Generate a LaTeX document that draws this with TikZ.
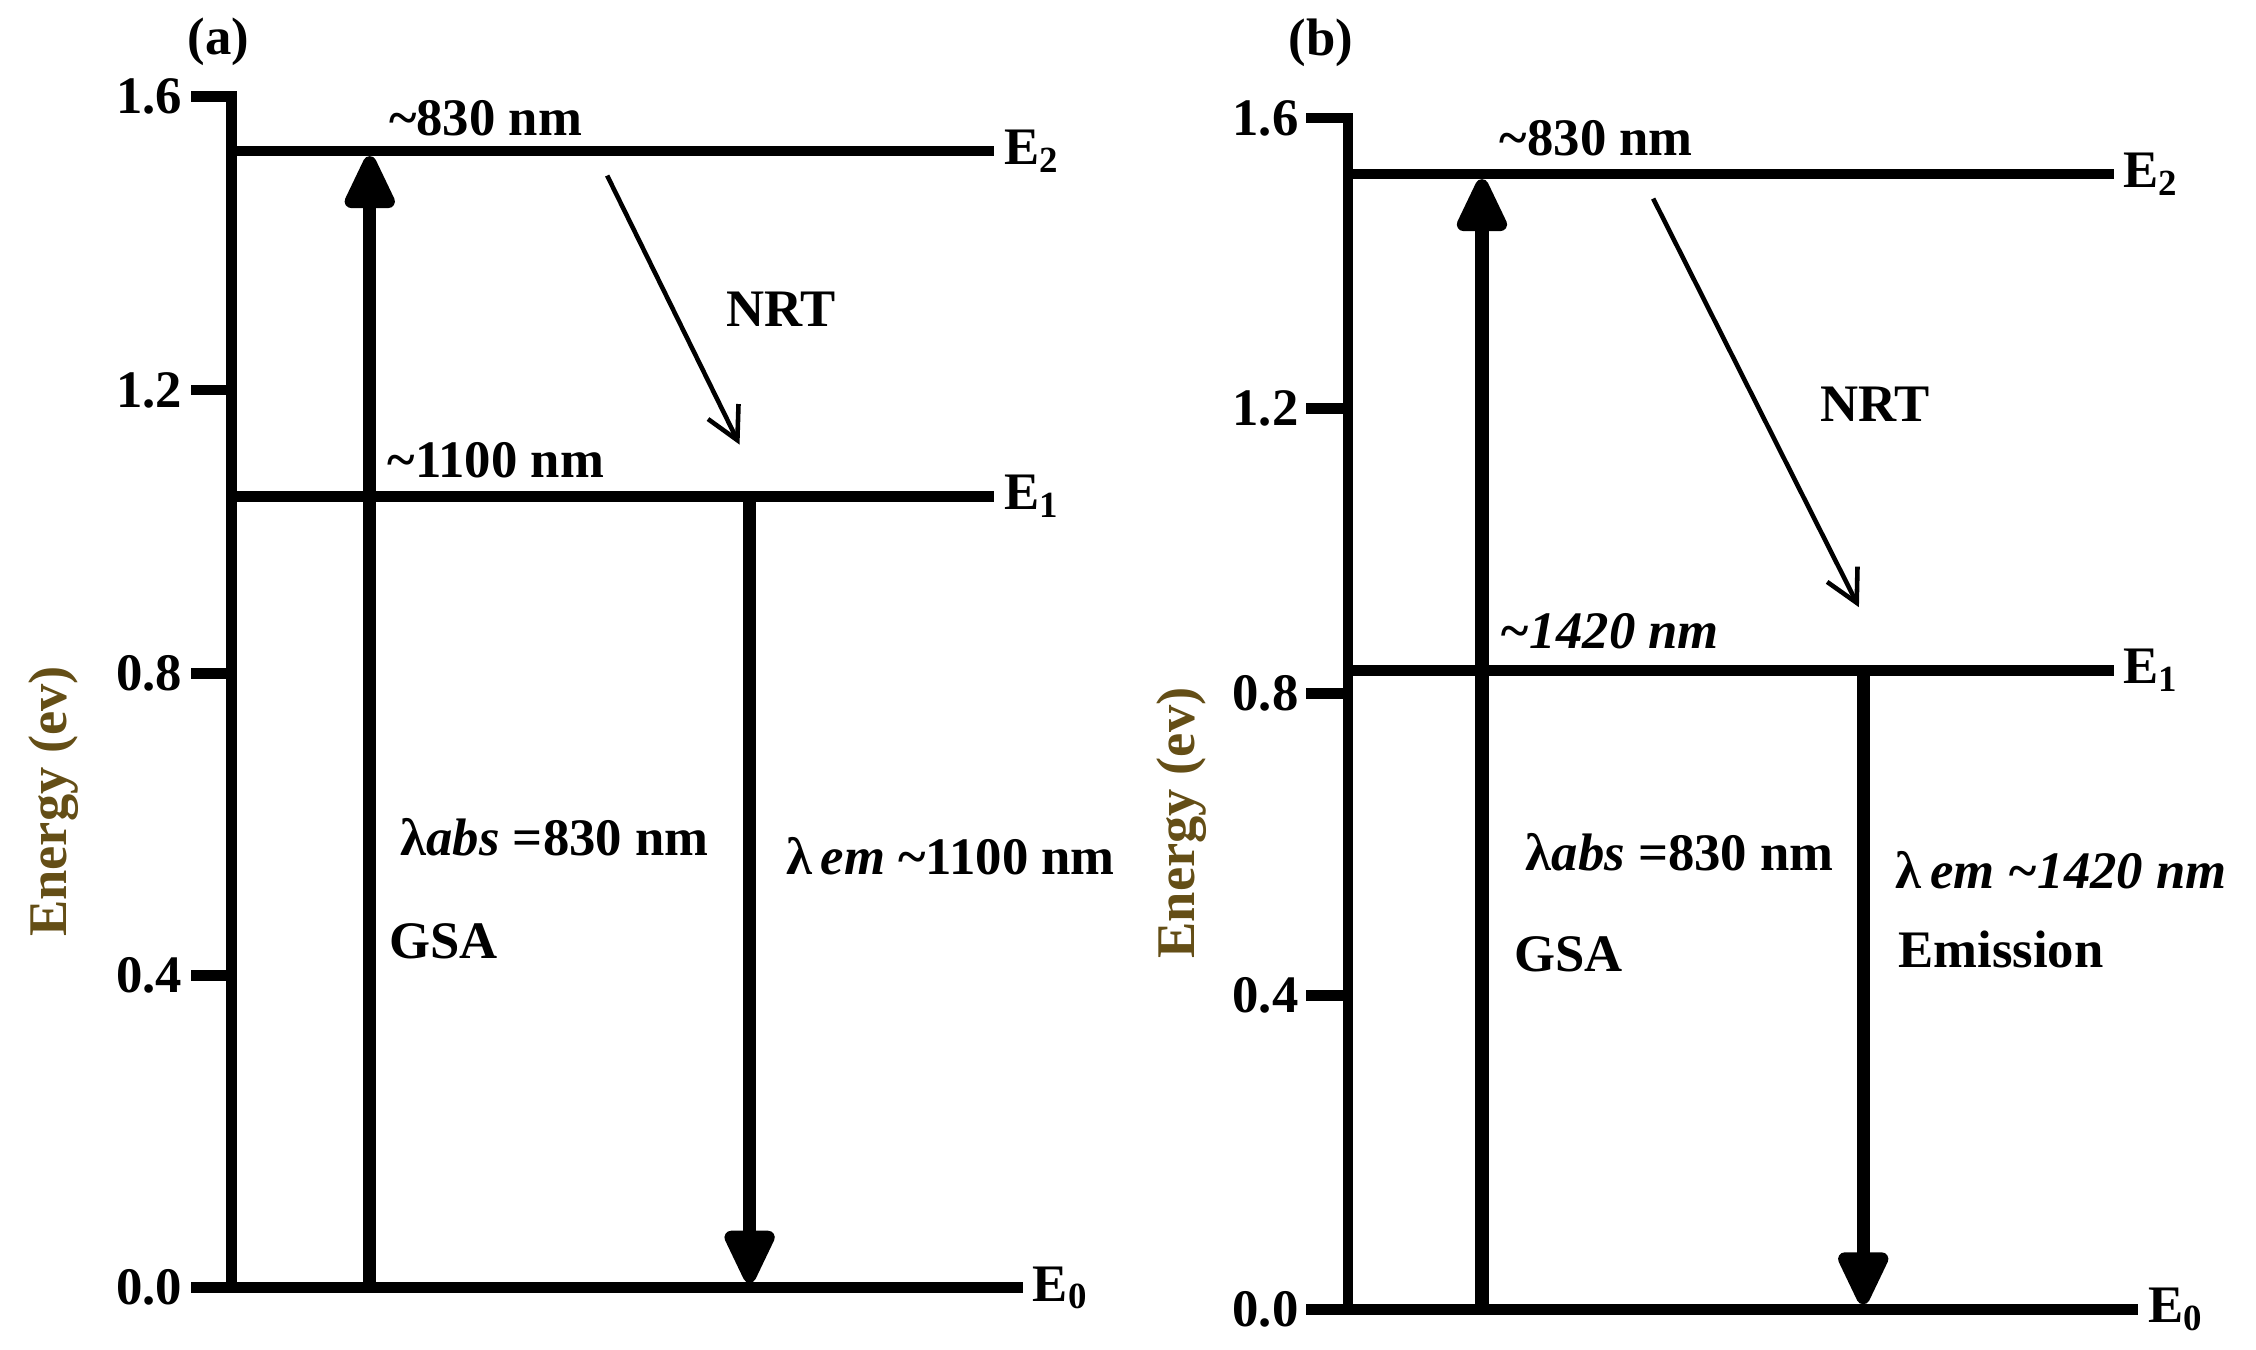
\documentclass[tikz,border=0pt]{standalone}
\usepackage{fontspec}
\setmainfont{Liberation Serif}
\usepackage{tikz}
\usetikzlibrary{arrows.meta}
\definecolor{axislabel}{RGB}{100,78,22}

\begin{document}
\begin{tikzpicture}
    [x=0.014388cm,y=-0.014388cm,
     font=\fontsize{15}{17}\selectfont\bfseries,
     level/.style={line width=3pt},
     trans/.style={line width=3.8pt,-{Triangle[length=6.2mm,width=5.4mm,round]}},
     nrt/.style={line width=1.3pt,-{Straight Barb[length=3.2mm,width=3.4mm]}},
     lbl/.style={anchor=west,inner sep=0pt},
     elbl/.style={anchor=west,inner sep=0pt,outer sep=1mm}]
\useasboundingbox (0,0) rectangle (1568,938);
%panel (a)
%axis with ticks
\draw[level] (133,67) -- (161,67) -- (161,895);
\foreach \y in {271,468,678}
  \draw[level] (133,\y) -- (161,\y);
\foreach \v/\y in {1.6/67,1.2/271,0.8/468,0.4/678,0.0/895}
  \node[anchor=east,inner sep=0pt] (ticka\y) at (127,\y) {\v};
\node[rotate=90,text=axislabel,font=\fontsize{15.5}{17}\selectfont\bfseries] (aenergy) at (37,557) {Energy (ev)};
\node (apanel) at (152,29) {(a)};
%levels
\node[elbl] (aE2) at (691,105) {E\textsubscript{2}};
\node[elbl] (aE1) at (691,345) {E\textsubscript{1}};
\node[elbl] (aE0) at (711,895) {E\textsubscript{0}};
\draw[level] (161,105) -- (aE2.west);
\draw[level] (161,345) -- (aE1.west);
\draw[level] (133,895) -- (aE0.west);
%transitions
\coordinate (agsab) at (257,895);
\coordinate (agsat) at (257,108.5);
\coordinate (aemt) at (521,345);
\coordinate (aemb) at (521,891.5);
\coordinate (anrtt) at (422,122);
\coordinate (anrtb) at (514,309);
\draw[trans] (agsab) -- (agsat);
\draw[trans] (aemt) -- (aemb);
\draw[nrt] (anrtt) -- (anrtb);
%texts
\node[lbl] (a830) at (270,82) {\textasciitilde830 nm};
\node[lbl] (a1100) at (269,320) {\textasciitilde1100 nm};
\node (anrt) at (543,215) {NRT};
\node[lbl] (aabs) at (278,582) {λ\textit{abs} =830 nm};
\node[lbl] (agsa) at (270,654) {GSA};
\node[lbl] (aem) at (546,595) {λ\,\textit{em} \textasciitilde1100 nm};

%panel (b)
%axis with ticks
\draw[level] (908,82) -- (937,82) -- (937,910);
\foreach \y in {284,482,692}
  \draw[level] (908,\y) -- (937,\y);
\foreach \v/\y in {1.6/82,1.2/284,0.8/482,0.4/692,0.0/910}
  \node[anchor=east,inner sep=0pt] (tickb\y) at (903,\y) {\v};
\node[rotate=90,text=axislabel,font=\fontsize{15.5}{17}\selectfont\bfseries] (benergy) at (821,572) {Energy (ev)};
\node (bpanel) at (918,30) {(b)};
%levels
\node[elbl] (bE2) at (1469,121) {E\textsubscript{2}};
\node[elbl] (bE1) at (1469,466) {E\textsubscript{1}};
\node[elbl] (bE0) at (1486,910) {E\textsubscript{0}};
\draw[level] (937,121) -- (bE2.west);
\draw[level] (937,466) -- (bE1.west);
\draw[level] (908,910) -- (bE0.west);
%transitions
\coordinate (bgsab) at (1030,910);
\coordinate (bgsat) at (1030,124.5);
\coordinate (bemt) at (1295,466);
\coordinate (bemb) at (1295,906.5);
\coordinate (bnrtt) at (1149,138);
\coordinate (bnrtb) at (1292,422);
\draw[trans] (bgsab) -- (bgsat);
\draw[trans] (bemt) -- (bemb);
\draw[nrt] (bnrtt) -- (bnrtb);
%texts
\node[lbl] (b830) at (1042,96) {\textasciitilde830 nm};
\node[lbl] (b1420) at (1042,439) {\textit{\textasciitilde1420 nm}};
\node (bnrt) at (1303,281) {NRT};
\node[lbl] (babs) at (1060,592) {λ\textit{abs} =830 nm};
\node[lbl] (bgsa) at (1052,663) {GSA};
\node[lbl] (bem) at (1317,605) {λ\,\textit{em \textasciitilde1420 nm}};
\node[lbl] (bemis) at (1319,660) {Emission};
\end{tikzpicture}
\end{document}
